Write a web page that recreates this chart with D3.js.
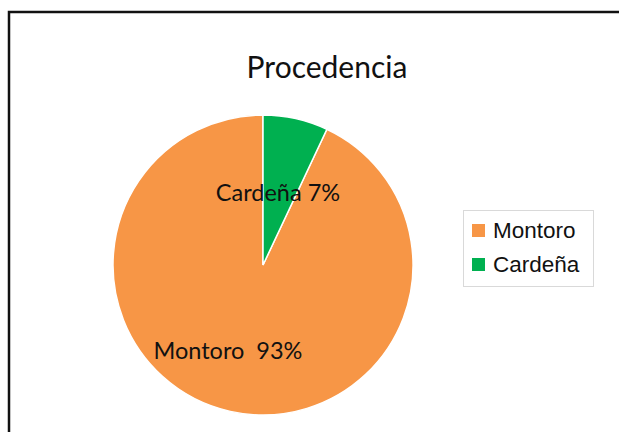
<!DOCTYPE html>
<html>
<head>
<meta charset="utf-8">
<script src="https://d3js.org/d3.v7.min.js"></script>
<style>
  body { margin: 0; background: #fff; }
</style>
</head>
<body>
<script>
var categories = ['Montoro', 'Cardeña'];
var values = [93, 7];
var labels = ['Montoro  93%', 'Cardeña 7%'];
var colors = ['#F79646', '#00B050'];

var width = 619, height = 432;
var cx = 263, cy = 265, radius = 150;

var svg = d3.select('body').append('svg')
  .attr('width', width)
  .attr('height', height);

// chart frame (only top and left edges visible)
svg.append('path')
  .attr('d', 'M9,432 V12 H619')
  .attr('fill', 'none')
  .attr('stroke', '#111')
  .attr('stroke-width', 2.5);

svg.append('text')
  .attr('x', 327)
  .attr('y', 78)
  .attr('text-anchor', 'middle')
  .style('font-family', 'Lato, "Open Sans", sans-serif')
  .style('font-size', '30px')
  .style('fill', '#111')
  .text('Procedencia');

var share = values[1] / d3.sum(values);
var pie = d3.pie().sort(null)
  .startAngle(share * 2 * Math.PI)
  .endAngle(share * 2 * Math.PI + 2 * Math.PI);
var arcs = pie(values);
var arc = d3.arc().innerRadius(0).outerRadius(radius);

var g = svg.append('g').attr('transform', 'translate(' + cx + ',' + cy + ')');
g.selectAll('path')
  .data(arcs)
  .enter()
  .append('path')
  .attr('d', arc)
  .attr('fill', (d, i) => colors[i])
  .attr('stroke', '#fff')
  .attr('stroke-width', 1.5);

// data labels
var labelPos = [[228, 359], [278, 201]];
svg.selectAll('.lbl')
  .data(labels)
  .enter()
  .append('text')
  .attr('class', 'lbl')
  .attr('x', (d, i) => labelPos[i][0])
  .attr('y', (d, i) => labelPos[i][1])
  .attr('text-anchor', 'middle')
  .style('font-family', 'Lato, "Open Sans", sans-serif')
  .style('font-size', '23.5px')
  .style('fill', '#111')
  .style('white-space', 'pre')
  .text(d => d);

// legend
var legend = svg.append('g');
legend.append('rect')
  .attr('x', 463.5).attr('y', 210.5)
  .attr('width', 130).attr('height', 76)
  .attr('fill', '#fff')
  .attr('stroke', '#d9d9d9');
var item = legend.selectAll('.item')
  .data(categories)
  .enter()
  .append('g')
  .attr('transform', (d, i) => 'translate(472,' + (224 + i * 34) + ')');
item.append('rect')
  .attr('width', 13).attr('height', 13)
  .attr('fill', (d, i) => colors[i]);
item.append('text')
  .attr('x', 21).attr('y', 14)
  .style('font-family', '"Liberation Sans", Arial, sans-serif')
  .style('font-size', '22.5px')
  .style('fill', '#111')
  .text(d => d);
</script>
</body>
</html>
